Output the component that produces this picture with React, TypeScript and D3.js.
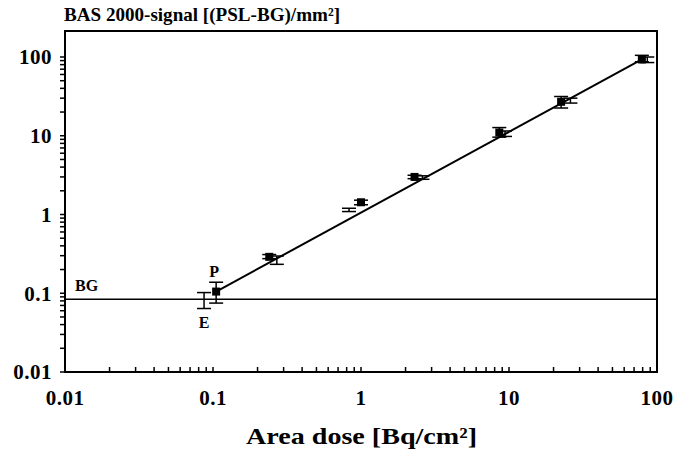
import React from 'react'
import * as d3 from 'd3'

// P series (filled squares)
const doseP = [0.105, 0.24, 1.0, 2.3, 8.6, 22.5, 79]
const signalP = [0.105, 0.29, 1.43, 3.0, 11.0, 27, 93]
const signalPLow = [0.075, 0.275, 1.33, 2.85, 9.6, 22.5, 87]
const signalPHigh = [0.138, 0.31, 1.52, 3.15, 12.7, 31.5, 105]

// E series (error bars only)
const doseE = [0.087, 0.27, 0.83, 2.6, 9.4, 26, 86]
const signalE = [0.082, 0.265, 1.14, 2.95, 10.6, 28, 92]
const signalELow = [0.064, 0.233, 1.09, 2.8, 9.8, 26, 85]
const signalEHigh = [0.102, 0.297, 1.2, 3.1, 11.5, 30, 100]

// regression line end points
const fitDose = [0.105, 79]
const fitSignal = [0.105, 93]

const background = 0.084

const tickLabels = ['0.01', '0.1', '1', '10', '100']
const decades = [0.01, 0.1, 1, 10]

const W = 673
const H = 450
const left = 65
const right = 657
const top = 31
const bottom = 372

const font = '"Liberation Serif", "Times New Roman", serif'

export default function App() {
  const x = d3.scaleLog().domain([0.01, 100]).range([left, right])
  const y = d3.scaleLog().domain([0.01, 100]).range([bottom, 57])

  const ticks: number[] = []
  decades.forEach(d => {
    for (let k = 1; k < 10; k++) ticks.push(d * k)
  })
  ticks.push(100)

  const line = d3.line<number>()
    .x((d, i) => x(fitDose[i]))
    .y(d => y(d))

  const cap = 7
  const errBar = (xs: number[], lo: number[], hi: number[], key: string) =>
    xs.map((v, i) => {
      const cx = x(v)
      return (
        <g key={key + i} stroke="#000" strokeWidth={1.5}>
          <line x1={cx} x2={cx} y1={y(lo[i])} y2={y(hi[i])} />
          <line x1={cx - cap} x2={cx + cap} y1={y(lo[i])} y2={y(lo[i])} />
          <line x1={cx - cap} x2={cx + cap} y1={y(hi[i])} y2={y(hi[i])} />
        </g>
      )
    })

  return (
    <svg width={W} height={H} style={{ position: 'absolute', left: 0, top: 0, background: '#fff' }}
      fontFamily={font} fontWeight="bold">
      {/* title */}
      <text x={64} y={21} fontSize={19} textLength={276} lengthAdjust="spacingAndGlyphs">BAS 2000-signal [(PSL-BG)/mm²]</text>

      {/* frame */}
      <rect x={left} y={top} width={right - left} height={bottom - top}
        fill="none" stroke="#000" strokeWidth={2} />

      {/* left axis ticks, outward */}
      {ticks.map(t => (
        <line key={'yt' + t} x1={left - 5} x2={left} y1={y(t)} y2={y(t)} stroke="#000" strokeWidth={1.5} />
      ))}
      {/* bottom axis ticks, inward */}
      {ticks.map(t => (
        <line key={'xt' + t} x1={x(t)} x2={x(t)} y1={bottom - 5} y2={bottom} stroke="#000" strokeWidth={1.5} />
      ))}

      {/* tick labels */}
      {tickLabels.map(l => (
        <text key={'yl' + l} x={left - 13} y={y(+l)} dy="0.35em" textAnchor="end" fontSize={21} letterSpacing={0.5}>{l}</text>
      ))}
      {tickLabels.map(l => (
        <text key={'xl' + l} x={x(+l)} y={405} textAnchor="middle" fontSize={21} letterSpacing={0.5}>{l}</text>
      ))}

      <text x={246} y={444} fontSize={23} textLength={231} lengthAdjust="spacingAndGlyphs">Area dose [Bq/cm²]</text>

      {/* background level */}
      <line x1={left} x2={right} y1={y(background)} y2={y(background)} stroke="#000" strokeWidth={1.5} />
      <text x={75} y={y(background) - 8} fontSize={16}>BG</text>

      {/* fit line */}
      <path d={line(fitSignal) || ''} fill="none" stroke="#000" strokeWidth={2} />

      {errBar(doseE, signalELow, signalEHigh, 'e')}
      {errBar(doseP, signalPLow, signalPHigh, 'p')}

      {doseP.map((v, i) => (
        <rect key={'m' + i} x={x(v) - 4} y={y(signalP[i]) - 4} width={8} height={8} fill="#000" />
      ))}

      <text x={x(doseP[0]) - 2} y={y(signalPHigh[0]) - 5} textAnchor="middle" fontSize={16}>P</text>
      <text x={x(doseE[0])} y={y(signalELow[0]) + 19} textAnchor="middle" fontSize={16}>E</text>
    </svg>
  )
}
